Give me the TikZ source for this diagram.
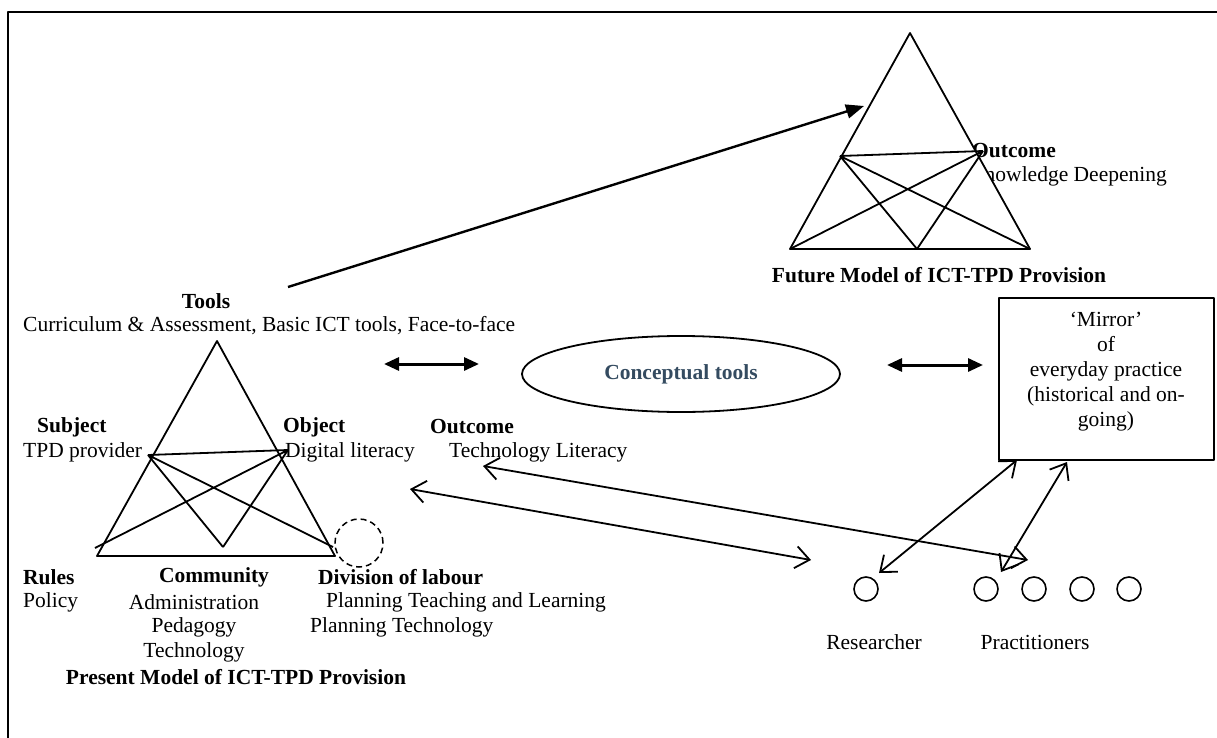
\documentclass[tikz,border=0pt]{standalone}
\usepackage{fontspec}
\setmainfont{Liberation Serif}
\usetikzlibrary{arrows.meta,shapes.geometric}
\definecolor{ctblue}{RGB}{52,75,96}
\begin{document}
\begin{tikzpicture}[x=1pt,y=-1pt,line join=round,
  txt/.style={inner sep=0pt,font=\fontsize{21.5}{25}\selectfont},
  bld/.style={inner sep=0pt,font=\fontsize{21.5}{25}\selectfont\bfseries},
  ln/.style={line width=1.8pt},
  bigarrow/.style={line width=2.4pt,-{Triangle[length=18pt,width=14pt]}},
  dbl/.style={line width=3pt,{Triangle[length=15pt,width=13pt]}-{Triangle[length=15pt,width=13pt]}},
  openarr/.style={line width=1.8pt,{Straight Barb[length=14pt,width=22pt]}-{Straight Barb[length=14pt,width=22pt]}},
  person/.style={circle,draw,line width=1.6pt,minimum size=24pt,inner sep=0pt}]
\useasboundingbox (0,0) rectangle (1217,738);
\draw[line width=2.2pt] (8,12) rectangle (1250,780);

% ---------- future model ----------
\coordinate (fA) at (910,33);
\coordinate (fL) at (790,249);
\coordinate (fR) at (1030,249);
\coordinate (fM) at (917,249);
\coordinate (fP) at (840,156);
\coordinate (fQ) at (983,151);
\node[bld,anchor=west] (fout) at (972,151) {Outcome};
\node[txt,anchor=west] (fkd) at (969,176) {Knowledge Deepening};
\draw[ln,fill=white] (fA) -- (fL) -- (fR) -- cycle;
\draw[ln] (fP) -- (fQ) (fP) -- (fR) (fP) -- (fM) (fQ) -- (fL) (fQ) -- (fM);
\node[bld] (ftitle) at (939,275) {Future Model of ICT-TPD Provision};

% ---------- present model ----------
\coordinate (pA) at (217,341);
\coordinate (pL) at (97,556);
\coordinate (pR) at (335,556);
\coordinate (pP) at (148,455);
\coordinate (pQ) at (288,450);
\coordinate (pM) at (223,547);
\coordinate (pX) at (95,548);
\coordinate (pY) at (333,547);
\draw[ln] (pA) -- (pL) -- (pR) -- cycle;
\draw[ln] (pP) -- (pQ) (pP) -- (pM) (pP) -- (pY) (pQ) -- (pM) (pQ) -- (pX);
\node[circle,draw,line width=1.5pt,dash pattern=on 6pt off 4pt,minimum size=48pt,inner sep=0pt] (dcirc) at (359,543) {};

\node[bld] (tools) at (206,301) {Tools};
\node[txt,anchor=west] (toolsv) at (23,326) {Curriculum \& Assessment, Basic ICT tools, Face-to-face};
\node[bld,anchor=west] (subj) at (37,427) {Subject};
\node[txt,anchor=west] (subjv) at (23,452) {TPD provider};
\node[bld,anchor=west] (obj) at (283,427) {Object};
\node[txt,anchor=west] (objv) at (285,452) {Digital literacy};
\node[bld,anchor=west] (pout) at (430,427) {Outcome};
\node[txt,anchor=west] (poutv) at (449,452) {Technology Literacy};
\node[bld,anchor=west] (rules) at (23,577) {Rules};
\node[txt,anchor=west] (rulesv) at (23,602) {Policy};
\node[bld] (comm) at (214,577) {Community};
\node[txt] (comm1) at (194,602) {Administration};
\node[txt] (comm2) at (194,627) {Pedagogy};
\node[txt] (comm3) at (194,652) {Technology};
\node[bld,anchor=west] (div) at (318,577) {Division of labour};
\node[txt,anchor=west] (div1) at (326,602) {Planning Teaching and Learning};
\node[txt,anchor=west] (div2) at (310,627) {Planning Technology};
\node[bld] (ptitle) at (236,677) {Present Model of ICT-TPD Provision};

% ---------- middle ----------
\node[draw,ellipse,line width=1.8pt,minimum width=318pt,minimum height=76pt,inner sep=0pt,
  font=\fontsize{21.5}{25}\selectfont\bfseries,text=ctblue] (ctools) at (681,374) {Conceptual tools};
\coordinate (d1a) at (384,364);
\coordinate (d1b) at (479,364);
\coordinate (d2a) at (887,365);
\coordinate (d2b) at (983,365);
\draw[dbl] (d1a) -- (d1b);
\draw[dbl] (d2a) -- (d2b);

\node[draw,line width=1.8pt,minimum width=215pt,minimum height=162pt,anchor=north west,inner sep=0pt] (mirror) at (998,297) {};
\node[txt,align=center,anchor=north] (mirrortxt) at (1106,312) {‘Mirror’\\of\\everyday practice\\(historical and on-\\going)};

% ---------- people ----------
\node[person] (res) at (866,589) {};
\node[person] (pr1) at (986,589) {};
\node[person] (pr2) at (1034,589) {};
\node[person] (pr3) at (1082,589) {};
\node[person] (pr4) at (1129,589) {};
\node[txt] (restxt) at (874,642) {Researcher};
\node[txt] (prtxt) at (1035,642) {Practitioners};

% ---------- connectors ----------
\coordinate (toolsarr) at (288,287);
\coordinate (futarr) at (864,106);
\draw[bigarrow] (toolsarr) -- (futarr);
\coordinate (aA) at (483,466);
\coordinate (aB) at (1028,560);
\coordinate (bA) at (410,489);
\coordinate (bB) at (811,560);
\coordinate (rA) at (879,573);
\coordinate (rB) at (1017,460);
\coordinate (qA) at (1001,572);
\coordinate (qB) at (1067,462);
\draw[openarr] (aA) -- (aB);
\draw[openarr] (bA) -- (bB);
\draw[openarr] (rA) -- (rB);
\draw[openarr] (qA) -- (qB);
\end{tikzpicture}
\end{document}
